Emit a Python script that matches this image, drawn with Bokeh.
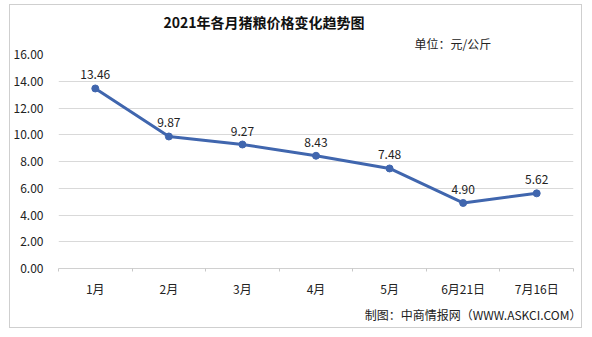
from bokeh.plotting import figure
from bokeh.models import Range1d, FixedTicker, NumeralTickFormatter, Title, ColumnDataSource
from bokeh.embed import file_html
from bokeh.resources import INLINE

categories = ["1月", "2月", "3月", "4月", "5月", "6月21日", "7月16日"]
prices = [13.46, 9.87, 9.27, 8.43, 7.48, 4.90, 5.62]
y_ticks = [0, 2, 4, 6, 8, 10, 12, 14, 16]
title_text = "2021年各月猪粮价格变化趋势图"
unit_text = "单位：元/公斤"
source_text = "制图：中商情报网（WWW.ASKCI.COM）"

FONT = "Noto Sans CJK SC"
LINE = "#4066AE"

xs = [i + 0.5 for i in range(len(categories))]
src = ColumnDataSource(dict(x=xs, y=prices, lab=["%.2f" % v for v in prices]))

p = figure(width=573, height=324, output_backend="svg", toolbar_location=None,
           x_range=Range1d(0, len(categories)), y_range=Range1d(y_ticks[0], y_ticks[-1]),
           min_border_left=47, min_border_right=10, min_border_top=49, min_border_bottom=61)
p.margin = (4, 0, 0, 9)
p.styles = {"border": "1px solid #cfcfcf"}
p.outline_line_color = None
p.background_fill_color = "white"
p.border_fill_color = "white"

# axes
p.xaxis.ticker = FixedTicker(ticks=xs, minor_ticks=list(range(len(categories) + 1)))
p.xaxis.major_label_overrides = {x: c for x, c in zip(xs, categories)}
p.xaxis.major_tick_out = 0
p.xaxis.major_tick_in = 0
p.xaxis.minor_tick_out = 3
p.xaxis.minor_tick_in = 0
p.xaxis.minor_tick_line_color = "#c8c8c8"
p.xaxis.axis_line_color = "#d0d0d0"
p.xaxis.major_label_standoff = 8
p.xaxis.major_label_text_font = FONT
p.xaxis.major_label_text_font_size = "12px"
p.xaxis.major_label_text_color = "#222222"

p.yaxis.ticker = FixedTicker(ticks=y_ticks)
p.yaxis.formatter = NumeralTickFormatter(format="0.00")
p.yaxis.axis_line_color = None
p.yaxis.major_tick_line_color = None
p.yaxis.minor_tick_line_color = None
p.yaxis.major_label_standoff = 9
p.yaxis.major_label_text_font = FONT
p.yaxis.major_label_text_font_size = "12px"
p.yaxis.major_label_text_color = "#222222"

p.xgrid.grid_line_color = None
p.ygrid.grid_line_color = "#d9d9d9"
p.ygrid.grid_line_width = 1

p.line("x", "y", source=src, line_color=LINE, line_width=3)
p.scatter("x", "y", source=src, size=7, fill_color=LINE, line_color=LINE)
p.text("x", "y", text="lab", source=src, text_align="center", text_baseline="bottom",
       y_offset=-9, text_font_size="12px", text_color="#222222",
       text_font={"value": FONT})

p.add_layout(Title(text=unit_text, align="left", offset=356, standoff=5,
                   text_font=FONT, text_font_size="12px", text_font_style="normal",
                   text_color="#222222"), "above")
p.add_layout(Title(text=title_text, align="left", offset=105, standoff=-2,
                   text_font=FONT, text_font_size="14px", text_font_style="bold",
                   text_color="#111111"), "above")
p.add_layout(Title(text=source_text, align="right", offset=-8, standoff=9,
                   text_font=FONT, text_font_size="12px", text_font_style="normal",
                   text_color="#222222"), "below")

open("out.html", "w").write(file_html(p, INLINE))
